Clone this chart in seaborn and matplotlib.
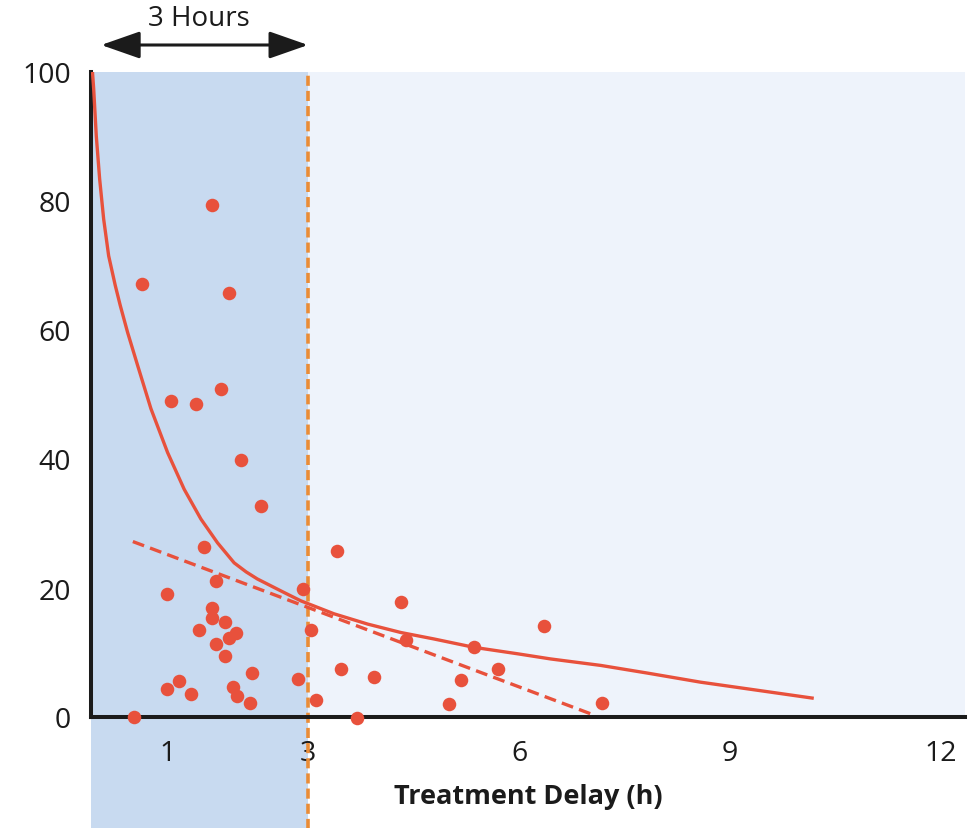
import matplotlib
matplotlib.use("Agg")
import matplotlib.pyplot as plt
from matplotlib.patches import Rectangle
import seaborn as sns
import pandas as pd

# ---- data ----
delay_h = [0.53, 0.64, 1.63, 1.88, 1.76, 1.05, 1.41, 2.05, 2.33, 1.52,
           1.69, 0.99, 1.63, 1.63, 1.82, 1.97, 1.87, 1.45, 1.69, 1.82,
           2.20, 1.16, 0.99, 1.34, 1.93, 1.99, 2.17, 2.86, 2.93, 3.04,
           3.11, 3.41, 3.47, 3.70, 3.94, 4.32, 4.40, 5.00, 5.17, 5.36,
           5.70, 6.35, 7.18]
outcome = [0.0, 67.2, 79.4, 65.7, 50.8, 49.0, 48.6, 39.8, 32.7, 26.3,
           21.1, 19.1, 16.9, 15.3, 14.8, 13.1, 12.2, 13.5, 11.3, 9.4,
           6.8, 5.6, 4.4, 3.5, 4.6, 3.2, 2.1, 5.9, 19.9, 13.5,
           2.7, 25.7, 7.4, -0.1, 6.2, 17.9, 11.9, 2.0, 5.7, 10.9,
           7.4, 14.1, 2.2]

fit_x = [-0.064, -0.047, -0.010, 0.038, 0.095, 0.166, 0.260, 0.331, 0.436,
         0.578, 0.767, 1.004, 1.240, 1.477, 1.714, 1.950, 2.12, 2.28, 2.66,
         2.90, 3.37, 3.85, 4.32, 4.79, 5.36, 5.98, 6.45, 7.16, 7.83, 8.58,
         9.29, 10.19]
fit_y = [100.0, 97.4, 90.1, 83.4, 77.2, 71.5, 66.9, 63.8, 59.6,
         54.5, 47.8, 41.0, 35.3, 30.7, 27.0, 23.9, 22.5, 21.4, 19.3,
         18.0, 16.0, 14.4, 13.1, 12.1, 10.8, 9.8, 9.0, 8.0, 6.8, 5.4,
         4.3, 2.9]

lin_x = [0.51, 7.09]
lin_y = [27.2, 0.2]

x_ticks = [1, 3, 6, 9, 12]
y_ticks = [0, 20, 40, 60, 80, 100]
cutoff_h = 3
x_label = "Treatment Delay (h)"
window_label = "3 Hours"

# ---- style ----
sns.set_style("white")
plt.rcParams['font.family'] = ['Open Sans', 'DejaVu Sans']
plt.rcParams['lines.solid_capstyle'] = 'butt'

RED = "#e8513c"
ORANGE = "#ea8c36"
DARK_BLUE = "#c8daf0"
LIGHT_BLUE = "#eef3fb"
INK = "#1b1b1b"

fig = plt.figure(figsize=(9.74, 8.29), dpi=100)
ax = fig.add_axes([91 / 974, 1 - 718 / 829, (965 - 91) / 974, (718 - 73) / 829])

xmin, xmax = -0.085, 12.34
ax.set_xlim(xmin, xmax)
ax.set_ylim(0, 100)
ax.set_facecolor(LIGHT_BLUE)

# dark shaded window (extends below the axis to the figure bottom)
ax.add_patch(Rectangle((xmin, -0.3), cutoff_h - xmin, 1.3,
                       transform=ax.get_xaxis_transform(), clip_on=False,
                       facecolor=DARK_BLUE, edgecolor="none", zorder=0))
ax.axvline(cutoff_h, ymin=-0.3, ymax=1.0, clip_on=False, color=ORANGE,
           lw=2.6, ls=(0, (2.8, 1.4)), zorder=1)

fit_df = pd.DataFrame({"x": fit_x, "y": fit_y})
lin_df = pd.DataFrame({"x": lin_x, "y": lin_y})
pts = pd.DataFrame({"delay": delay_h, "outcome": outcome})

sns.lineplot(data=fit_df, x="x", y="y", ax=ax, color=RED, lw=2.4,
             sort=False, estimator=None, zorder=3)
sns.lineplot(data=lin_df, x="x", y="y", ax=ax, color=RED, lw=2.4,
             sort=False, estimator=None, zorder=3, linestyle=(0, (3.6, 1.9)))
sns.scatterplot(data=pts, x="delay", y="outcome", ax=ax, color=RED, s=95,
                linewidth=0, zorder=4, clip_on=False)

# axes styling
for side in ["top", "right"]:
    ax.spines[side].set_visible(False)
for side in ["left", "bottom"]:
    ax.spines[side].set_color(INK)
    ax.spines[side].set_linewidth(2.9)
ax.set_xticks(x_ticks)
ax.set_yticks(y_ticks)
ax.tick_params(axis="both", direction="out", length=6.5, width=2.9,
               color=INK, labelsize=20.5, labelcolor=INK)
ax.tick_params(axis="y", pad=8)
ax.tick_params(axis="x", pad=9)
ax.set_xlabel(x_label, fontsize=19.5, fontweight="bold", color=INK, labelpad=12)
ax.set_ylabel("")

# "3 Hours" window arrow above the plot
ax.annotate("", xy=(cutoff_h, 1 - 46 / 829), xytext=(0.06, 1 - 46 / 829),
            xycoords=("data", "figure fraction"),
            textcoords=("data", "figure fraction"),
            annotation_clip=False,
            arrowprops=dict(arrowstyle="<|-|>,head_length=1.2,head_width=0.42",
                            mutation_scale=20, lw=2.2, color=INK,
                            shrinkA=0, shrinkB=0))
ax.annotate(window_label, xy=(1.45, 1 - 19 / 829),
            xycoords=("data", "figure fraction"), ha="center", va="center",
            fontsize=20, color=INK, annotation_clip=False)

fig.savefig("out.png", dpi=100)
